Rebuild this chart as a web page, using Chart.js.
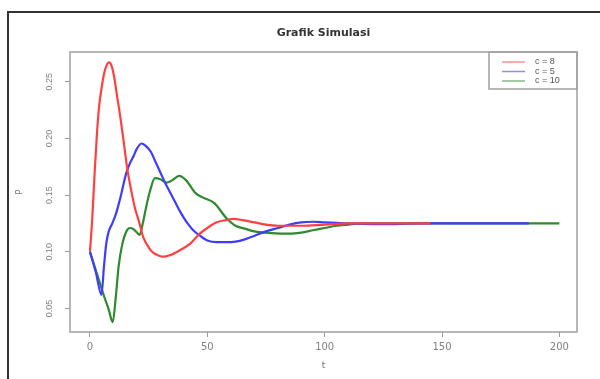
<!DOCTYPE html>
<html>
<head>
<meta charset="utf-8">
<script src="https://cdn.jsdelivr.net/npm/chart.js@4.4.1/dist/chart.umd.min.js"></script>
<style>
    html, body { margin: 0; padding: 0; background: #ffffff; overflow: hidden; }
    #wrap { position: relative; width: 600px; height: 379px; }
    #frame {
        position: absolute; left: 7px; top: 11px; width: 620px; height: 400px;
        border-left: 2px solid #333333; border-top: 2px solid #333333;
    }
    canvas { position: absolute; left: 0; top: 0; }
</style>
</head>
<body>
<div id="wrap">
    <div id="frame"></div>
    <canvas id="sim-chart" width="600" height="379"></canvas>
</div>
<script>
// values
const xTicks = [0, 50, 100, 150, 200];
const yTicks = [0.05, 0.10, 0.15, 0.20, 0.25];
const seriesLabels = ['c = 8', 'c = 5', 'c = 10'];
const seriesColors = ['#ff4040', '#3d3dff', '#2f8a2f'];

const tRed = [0, 1, 2, 3, 4, 5, 6, 7, 8.3, 9.5, 10.5, 11.5, 13, 14.5, 16, 17.5, 19, 21, 22.7, 25, 27, 29, 31, 34, 38, 42.6, 46.8, 50, 54, 58, 61, 65, 70, 75, 80, 90, 100, 110, 120, 130, 145];
const yRed = [0.100, 0.130, 0.170, 0.205, 0.230, 0.245, 0.257, 0.264, 0.267, 0.262, 0.252, 0.238, 0.218, 0.195, 0.172, 0.155, 0.140, 0.126, 0.113, 0.104, 0.099, 0.097, 0.0957, 0.097, 0.101, 0.107, 0.116, 0.121, 0.126, 0.128, 0.129, 0.128, 0.126, 0.124, 0.123, 0.123, 0.124, 0.125, 0.125, 0.125, 0.125];

const tBlue = [0, 2.5, 4.9, 6, 7, 8, 9.5, 11, 13, 15.4, 17, 18.7, 20, 22, 24, 26, 28, 30, 32, 34, 36, 38, 40, 42, 44, 47, 50, 54, 58, 62, 66, 70, 75, 80, 85, 90, 95, 100, 105, 110, 120, 130, 140, 187];
const yBlue = [0.100, 0.082, 0.062, 0.088, 0.108, 0.118, 0.125, 0.133, 0.148, 0.169, 0.178, 0.185, 0.191, 0.1955, 0.193, 0.188, 0.179, 0.170, 0.161, 0.153, 0.145, 0.137, 0.130, 0.124, 0.119, 0.114, 0.110, 0.1085, 0.1085, 0.109, 0.111, 0.114, 0.118, 0.121, 0.124, 0.126, 0.1265, 0.126, 0.1255, 0.125, 0.1245, 0.1245, 0.125, 0.125];

const tGreen = [0, 2, 4, 6, 8, 9.7, 11, 12.2, 13.8, 15.5, 17, 18.5, 20, 21.2, 22.5, 24, 25.5, 27.7, 30, 32.6, 35, 38, 41, 44.9, 48, 53, 58, 62, 66, 70, 77.4, 85, 90, 95, 100, 105, 110, 115, 130, 160, 200];
const yGreen = [0.100, 0.087, 0.074, 0.061, 0.049, 0.038, 0.060, 0.087, 0.107, 0.118, 0.121, 0.120, 0.117, 0.115, 0.125, 0.140, 0.153, 0.165, 0.164, 0.161, 0.163, 0.167, 0.163, 0.152, 0.148, 0.143, 0.130, 0.123, 0.1205, 0.118, 0.1165, 0.116, 0.117, 0.119, 0.121, 0.123, 0.124, 0.125, 0.125, 0.125, 0.125];

function toPoints(ts, ys) {
    return ts.map((t, i) => ({ x: t, y: ys[i] }));
}

const boxPlugin = {
    id: 'rBox',
    afterDatasetsDraw(chart) {
        const { ctx, chartArea: a } = chart;
        ctx.save();
        ctx.strokeStyle = '#a0a0a0';
        ctx.lineWidth = 1.5;
        ctx.strokeRect(a.left, a.top, a.right - a.left, a.bottom - a.top);

        // legend box in the top right corner
        const lx = 489, ly = a.top, lw = a.right - 489, lh = 37;
        ctx.strokeRect(lx, ly, lw, lh);
        ctx.font = '9px "Liberation Sans"';
        ctx.textBaseline = 'middle';
        chart.data.datasets.forEach((ds, i) => {
            const y = ly + 10 + i * 9.5;
            ctx.strokeStyle = ds.borderColor;
            ctx.globalAlpha = 0.6;
            ctx.lineWidth = 1.5;
            ctx.beginPath();
            ctx.moveTo(lx + 13, y);
            ctx.lineTo(lx + 36, y);
            ctx.stroke();
            ctx.globalAlpha = 1;
            ctx.fillStyle = '#555555';
            ctx.fillText(ds.label, lx + 46, y);
        });
        ctx.restore();
    }
};

const tickFont = { size: 10, family: "'DejaVu Sans'" };

new Chart(document.getElementById('sim-chart'), {
    type: 'line',
    data: {
        datasets: [
            { label: seriesLabels[0], data: toPoints(tRed, yRed), borderColor: seriesColors[0] },
            { label: seriesLabels[1], data: toPoints(tBlue, yBlue), borderColor: seriesColors[1] },
            { label: seriesLabels[2], data: toPoints(tGreen, yGreen), borderColor: seriesColors[2] }
        ]
    },
    options: {
        responsive: false,
        animation: false,
        layout: { padding: { left: 0, top: 0, right: 23, bottom: 0 } },
        elements: {
            line: { borderWidth: 2.2, cubicInterpolationMode: 'monotone', fill: false },
            point: { radius: 0 }
        },
        plugins: {
            legend: { display: false },
            tooltip: { enabled: false },
            title: {
                display: true,
                text: 'Grafik Simulasi',
                fullSize: false,
                color: '#333333',
                font: { size: 11, weight: 'bold', family: "'DejaVu Sans'", lineHeight: 1.2 },
                padding: { top: 26.7, bottom: 12.1 }
            }
        },
        scales: {
            x: {
                type: 'linear',
                min: -8.5,
                max: 207.5,
                afterBuildTicks: s => { s.ticks = xTicks.map(v => ({ value: v })); },
                afterFit: s => { s.height = 47; },
                grid: { drawOnChartArea: false, drawTicks: true, tickLength: 5, color: '#999999', lineWidth: 1 },
                border: { display: false },
                ticks: {
                    color: '#808080',
                    font: tickFont,
                    padding: 4,
                    maxRotation: 0,
                    callback: v => String(v)
                },
                title: {
                    display: true,
                    text: 't',
                    color: '#777777',
                    font: { size: 9, family: "'DejaVu Sans'", lineHeight: 1.2 },
                    padding: { top: 0, bottom: 8 }
                }
            },
            y: {
                type: 'linear',
                min: 0.0293,
                max: 0.2762,
                afterBuildTicks: s => { s.ticks = yTicks.map(v => ({ value: v })); },
                afterFit: s => { s.width = 70; },
                grid: { drawOnChartArea: false, drawTicks: true, tickLength: 5, color: '#999999', lineWidth: 1 },
                border: { display: false },
                ticks: {
                    color: '#808080',
                    font: { size: 9, family: "'Liberation Sans'" },
                    minRotation: 90,
                    maxRotation: 90,
                    crossAlign: 'center',
                    padding: 7,
                    callback: v => v.toFixed(2)
                },
                title: {
                    display: true,
                    text: 'P',
                    color: '#777777',
                    font: { size: 9, family: "'DejaVu Sans'", lineHeight: 1.2 },
                    padding: { top: 14.6, bottom: 0 }
                }
            }
        }
    },
    plugins: [boxPlugin]
});
</script>
</body>
</html>
